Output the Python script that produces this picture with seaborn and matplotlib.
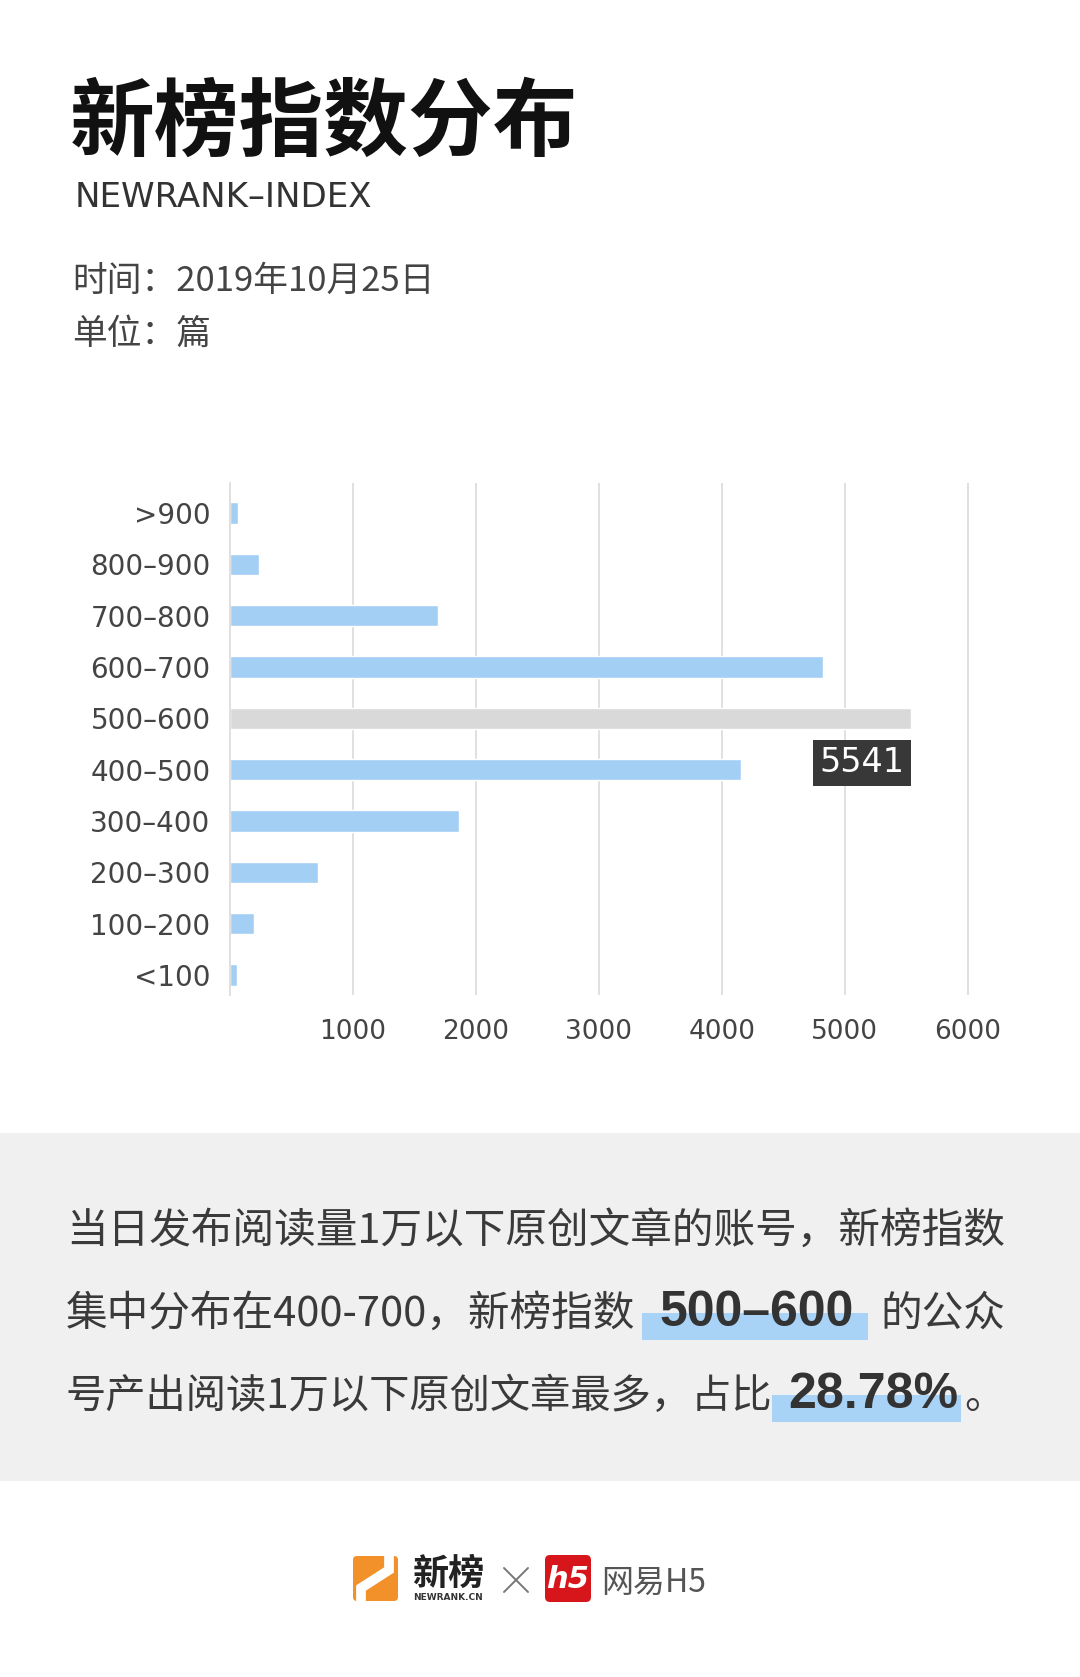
import numpy as np
import pandas as pd
import seaborn as sns
import matplotlib.pyplot as plt
from matplotlib.patches import Rectangle, FancyBboxPatch

# data
categories = ['>900', '800–900', '700–800', '600–700', '500–600',
              '400–500', '300–400', '200–300', '100–200', '<100']
counts = [62, 239, 1693, 4820, 5541, 4153, 1859, 713, 192, 55]
top_cat = '500–600'
x_ticks = [1000, 2000, 3000, 4000, 5000, 6000]

title = '新榜指数分布'
subtitle = 'NEWRANK–INDEX'
meta_lines = ['时间：2019年10月25日', '单位：篇']
# (text, bold, gap before in px, highlight right pad in px)
body_lines = [
    [('当日发布阅读量1万以下原创文章的账号，新榜指数', False, 0, 0)],
    [('集中分布在400-700，新榜指数', False, 0, 0), ('500–600', True, 24, 14), ('的公众', False, 27, 0)],
    [('号产出阅读1万以下原创文章最多，占比', False, 0, 0), ('28.78%', True, 16, 2), ('。', False, 6, 0)],
]

BLUE = '#a3cff5'
GREY_BAR = '#d9d9d9'

sns.set_style('white')
CJK = ['Noto Sans CJK SC', 'DejaVu Sans']
plt.rcParams['font.family'] = CJK

fig = plt.figure(figsize=(10.8, 16.77), dpi=100)
fig.patch.set_facecolor('white')

# background layer in pixel coordinates for text / panel / logos
bg = fig.add_axes([0, 0, 1, 1])
bg.set_xlim(0, 1080)
bg.set_ylim(1677, 0)
bg.axis('off')

bg.text(70, 149, title, fontsize=61, weight='bold', color='#111111', va='baseline')
bg.text(75, 207, subtitle, family='DejaVu Sans', fontsize=24.5, color='#333333', va='baseline')
bg.text(72, 291, meta_lines[0], fontsize=25, color='#444444', va='baseline')
bg.text(72, 344, meta_lines[1], fontsize=25, color='#444444', va='baseline')

# grey summary panel
bg.add_patch(Rectangle((0, 1133), 1080, 348, facecolor='#f0f0f0', lw=0, zorder=0))

renderer = fig.canvas.get_renderer()
inv = bg.transData.inverted()
baselines = [1243, 1326, 1408]
line_sizes = [30, 30, 29]
for base, size, parts in zip(baselines, line_sizes, body_lines):
    x = 66
    for txt, bold, gap, rpad in parts:
        x += gap
        if bold:
            t = bg.text(x, base, txt, family='Liberation Sans', weight='bold', fontsize=36,
                        color='#333333', va='baseline', zorder=3)
        else:
            t = bg.text(x, base, txt, fontsize=size, color='#3a3a3a', va='baseline', zorder=3)
        bb = t.get_window_extent(renderer).transformed(inv)
        x0, x1 = min(bb.x0, bb.x1), max(bb.x0, bb.x1)
        if bold:
            bg.add_patch(Rectangle((x0 - 17, base - 13), (x1 - x0) + 17 + rpad, 27,
                                   facecolor='#a8d3f6', lw=0, zorder=2))
        x = x1

# logos at the bottom
bg.add_patch(FancyBboxPatch((353, 1556), 45, 45, boxstyle='round,pad=0,rounding_size=4',
                            facecolor='#f2902a', lw=0))
logo_clip = FancyBboxPatch((353, 1556), 45, 45, boxstyle='round,pad=0,rounding_size=4',
                           facecolor='none', lw=0, transform=bg.transData)
bg.add_patch(logo_clip)
ln, = bg.plot([361, 361, 389, 389], [1604, 1588, 1570, 1553], color='white', lw=7,
              solid_joinstyle='miter', solid_capstyle='butt')
ln.set_clip_path(logo_clip)
bg.text(412, 1585, '新榜', fontsize=26, weight='bold', color='#222222', va='baseline')
bg.text(413, 1600, 'NEWRANK.CN', family='DejaVu Sans', fontsize=6.5, weight='bold',
        color='#333333', va='baseline')
bg.plot([504, 528], [1568, 1592], color='#777777', lw=1.4)
bg.plot([504, 528], [1592, 1568], color='#777777', lw=1.4)
bg.add_patch(FancyBboxPatch((545, 1555), 46, 47, boxstyle='round,pad=0,rounding_size=5',
                            facecolor='#d7161c', lw=0))
bg.text(568, 1579, 'h5', family='DejaVu Sans', fontsize=22, weight='bold', style='italic',
        color='white', ha='center', va='center')
bg.text(601, 1592, '网易H5', fontsize=23, color='#555555', va='baseline')

# bar chart
ax = fig.add_axes([230 / 1080, 1 - 995 / 1677, (974 - 230) / 1080, 512 / 1677])
ax.set_facecolor('none')
palette = {c: (GREY_BAR if c == top_cat else BLUE) for c in categories}
sns.barplot(x=counts, y=categories, hue=categories, palette=palette, width=0.41,
            saturation=1, legend=False, orient='h', ax=ax, zorder=2)

ax.set_xlim(0, 6050)
ax.set_ylim(9.39, -0.584)
ax.set_xticks(x_ticks)
ax.set_xticklabels([str(v) for v in x_ticks], family='DejaVu Sans', fontsize=19, color='#444444')
ax.set_yticks(range(len(categories)))
ax.set_yticklabels(categories, family='DejaVu Sans', fontsize=20, color='#444444')
ax.tick_params(axis='x', length=0, pad=17)
ax.tick_params(axis='y', length=0, pad=14)
ax.xaxis.grid(True, color='#dddddd', lw=1.3, zorder=0)
ax.yaxis.grid(False)
for s in ['top', 'right', 'bottom']:
    ax.spines[s].set_visible(False)
ax.spines['left'].set_color('#dddddd')
ax.spines['left'].set_linewidth(1.3)
ax.set_xlabel('')
ax.set_ylabel('')

# value label for the highlighted bar
i_top = categories.index(top_cat)
ax.annotate(f'{counts[i_top]}', xy=(counts[i_top], i_top), xytext=(-5, -32),
            textcoords='offset points', ha='right', va='center', family='DejaVu Sans',
            fontsize=24, color='white', zorder=5,
            bbox=dict(boxstyle='square,pad=0.2', facecolor='#383838', edgecolor='none'))

fig.savefig('out.png', dpi=100, facecolor='white')
